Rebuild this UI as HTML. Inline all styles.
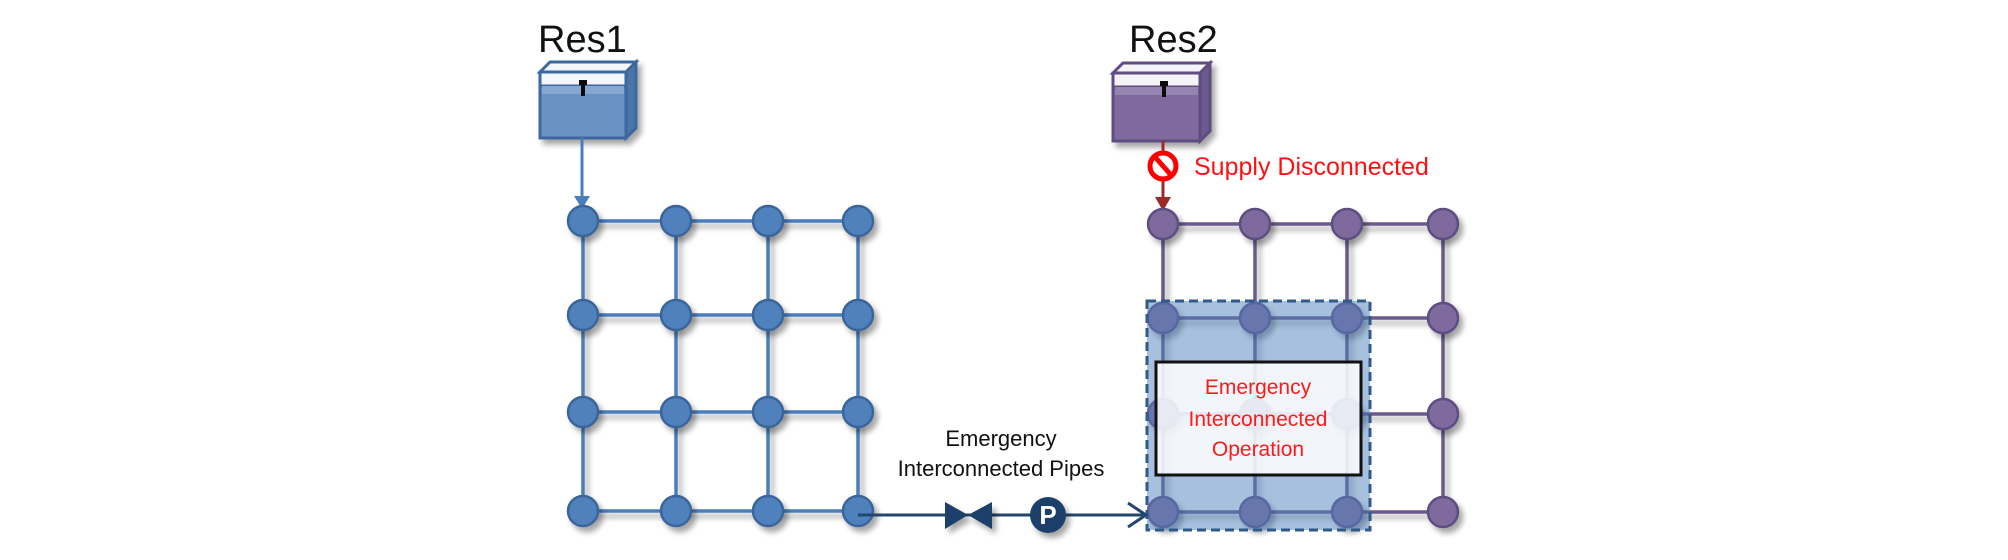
<!DOCTYPE html>
<html><head><meta charset="utf-8"><style>
html,body{margin:0;padding:0;background:#fff;}
svg{display:block;font-family:"Liberation Sans",Arial,sans-serif;}
</style></head><body>
<svg width="2008" height="560" viewBox="0 0 2008 560" xmlns="http://www.w3.org/2000/svg">
<defs>
<filter id="sh" x="-30%" y="-30%" width="170%" height="170%"><feGaussianBlur in="SourceAlpha" stdDeviation="3"/><feOffset dx="4" dy="5"/><feComponentTransfer><feFuncA type="linear" slope="0.35"/></feComponentTransfer><feMerge><feMergeNode/><feMergeNode in="SourceGraphic"/></feMerge></filter>
</defs>
<!-- Res1 -->
<text x="538" y="52" font-size="38" fill="#111">Res1</text>
<g filter="url(#sh)">
<polygon points="540,72 550,62 636,62 626,72" fill="#f4f6fa" stroke="#3d689f" stroke-width="3"/>
<rect x="540" y="72" width="86" height="14" fill="#f4f6fa" stroke="#3d689f" stroke-width="3"/>
<polygon points="626,72 636,62 636,128 626,138" fill="#4a74a8" stroke="#3d689f" stroke-width="3"/>
<rect x="540" y="86" width="86" height="52" fill="#6a93c4" stroke="#3d689f" stroke-width="3"/>
<rect x="542" y="86" width="82" height="8" fill="#86a8d2"/>
<rect x="579" y="80" width="8" height="5" fill="#111"/><rect x="581" y="84" width="4" height="12" fill="#111"/>
</g>
<line x1="582" y1="138" x2="582" y2="198" stroke="#4a7ebb" stroke-width="3"/>
<polygon points="574,196 590,196 582,209" fill="#4a7ebb"/>
<!-- grid1 -->
<g stroke="#4a7ebb" stroke-width="3.5" fill="none" filter="url(#sh)">
<path d="M583 221H858M583 315H858M583 412H858M583 511H858M583 221V511M676 221V511M768 221V511M858 221V511"/>
</g>
<g fill="#4f81bd" stroke="#3b659a" stroke-width="2.5" filter="url(#sh)">
<circle cx="583" cy="221" r="15"/><circle cx="676" cy="221" r="15"/><circle cx="768" cy="221" r="15"/><circle cx="858" cy="221" r="15"/>
<circle cx="583" cy="315" r="15"/><circle cx="676" cy="315" r="15"/><circle cx="768" cy="315" r="15"/><circle cx="858" cy="315" r="15"/>
<circle cx="583" cy="412" r="15"/><circle cx="676" cy="412" r="15"/><circle cx="768" cy="412" r="15"/><circle cx="858" cy="412" r="15"/>
<circle cx="583" cy="511" r="15"/><circle cx="676" cy="511" r="15"/><circle cx="768" cy="511" r="15"/><circle cx="858" cy="511" r="15"/>
</g>
<!-- Res2 -->
<text x="1129" y="52" font-size="38" fill="#111">Res2</text>
<g filter="url(#sh)">
<polygon points="1113,73 1123,63 1210,63 1200,73" fill="#f4f3f7" stroke="#5e4d82" stroke-width="3"/>
<rect x="1113" y="73" width="87" height="14" fill="#f4f3f7" stroke="#5e4d82" stroke-width="3"/>
<polygon points="1200,73 1210,63 1210,131 1200,141" fill="#6c5a8e" stroke="#5e4d82" stroke-width="3"/>
<rect x="1113" y="87" width="87" height="54" fill="#7e6a9c" stroke="#5e4d82" stroke-width="3"/>
<rect x="1115" y="87" width="83" height="8" fill="#9585b0"/>
<rect x="1160" y="81" width="8" height="5" fill="#111"/><rect x="1162" y="85" width="4" height="12" fill="#111"/>
</g>
<line x1="1163" y1="141" x2="1163" y2="200" stroke="#9b2a2a" stroke-width="3"/>
<polygon points="1155,197 1171,197 1163,211" fill="#9b2a2a"/>
<circle cx="1163" cy="166" r="13" fill="#fff" stroke="#ff0000" stroke-width="5"/>
<line x1="1155" y1="157" x2="1171" y2="175" stroke="#ff0000" stroke-width="5"/>
<text x="1194" y="175" font-size="25" fill="#ff1010">Supply Disconnected</text>
<!-- grid2 -->
<g stroke="#6a5a8c" stroke-width="3.5" fill="none" filter="url(#sh)">
<path d="M1163 224H1443M1163 318H1443M1163 414H1443M1163 512H1443M1163 224V512M1255 224V512M1347 224V512M1443 224V512"/>
</g>
<g fill="#7e6a9c" stroke="#5e4d82" stroke-width="2.5" filter="url(#sh)">
<circle cx="1163" cy="224" r="15"/><circle cx="1255" cy="224" r="15"/><circle cx="1347" cy="224" r="15"/><circle cx="1443" cy="224" r="15"/>
<circle cx="1163" cy="318" r="15"/><circle cx="1255" cy="318" r="15"/><circle cx="1347" cy="318" r="15"/><circle cx="1443" cy="318" r="15"/>
<circle cx="1163" cy="414" r="15"/><circle cx="1255" cy="414" r="15"/><circle cx="1347" cy="414" r="15"/><circle cx="1443" cy="414" r="15"/>
<circle cx="1163" cy="512" r="15"/><circle cx="1255" cy="512" r="15"/><circle cx="1347" cy="512" r="15"/><circle cx="1443" cy="512" r="15"/>
</g>
<!-- dashed region -->
<rect x="1147" y="301" width="223" height="229" fill="#4f81bd" fill-opacity="0.5" stroke="#2f5a8a" stroke-width="3" stroke-dasharray="9,5"/>
<rect x="1156" y="362" width="205" height="113" fill="#fff" fill-opacity="0.85" stroke="#111" stroke-width="3"/>
<g font-size="21" fill="#ff1a1a" text-anchor="middle">
<text x="1258" y="394">Emergency</text>
<text x="1258" y="426">Interconnected</text>
<text x="1258" y="456">Operation</text>
</g>
<!-- interconnection pipe -->
<line x1="858" y1="515" x2="1145" y2="515" stroke="#23466e" stroke-width="3"/>
<polyline points="1128,503 1146,515 1128,527" fill="none" stroke="#23466e" stroke-width="3"/>
<g filter="url(#sh)">
<polygon points="945,502 968,515 945,529" fill="#1f3f6a"/>
<polygon points="992,502 968,515 992,529" fill="#1f3f6a"/>
<circle cx="1048" cy="515" r="18" fill="#1f3f6a"/>
</g>
<text x="1048" y="524" font-size="26" font-weight="bold" fill="#fff" text-anchor="middle">P</text>
<g font-size="22" fill="#111" text-anchor="middle">
<text x="1001" y="446">Emergency</text>
<text x="1001" y="476">Interconnected Pipes</text>
</g>
</svg>
</body></html>
